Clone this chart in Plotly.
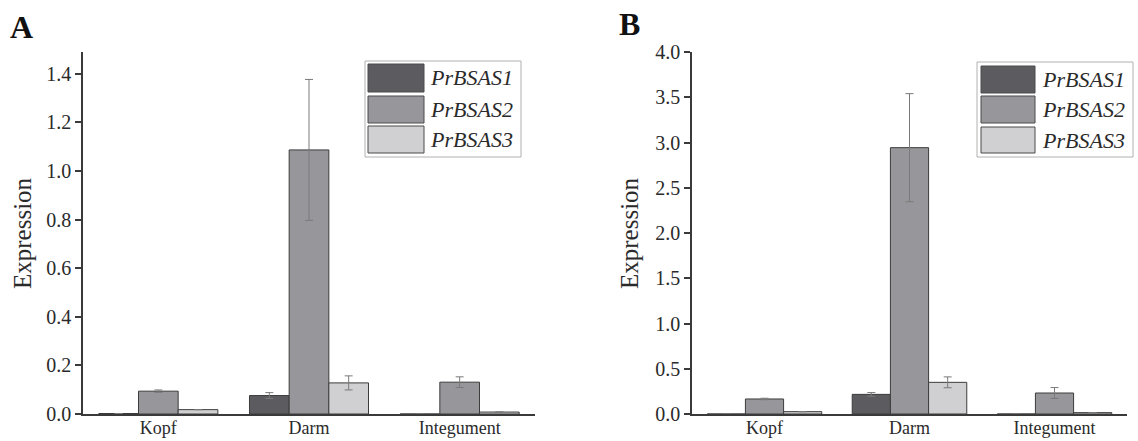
import plotly.graph_objects as go

W, H = 1138, 441

categories = ["Kopf", "Darm", "Integument"]
series_names = ["PrBSAS1", "PrBSAS2", "PrBSAS3"]

a_sas1 = [0.002, 0.076, 0.0]
a_sas2 = [0.094, 1.087, 0.131]
a_sas3 = [0.018, 0.128, 0.008]
a_err1 = [0.0, 0.012, 0.0]
a_err2 = [0.005, 0.29, 0.022]
a_err3 = [0.0, 0.029, 0.0]

b_sas1 = [0.0, 0.217, 0.0]
b_sas2 = [0.166, 2.943, 0.232]
b_sas3 = [0.026, 0.35, 0.015]
b_err1 = [0.0, 0.02, 0.0]
b_err2 = [0.008, 0.597, 0.06]
b_err3 = [0.0, 0.06, 0.0]

a_ticks = [0.0, 0.2, 0.4, 0.6, 0.8, 1.0, 1.2, 1.4]
b_ticks = [0.0, 0.5, 1.0, 1.5, 2.0, 2.5, 3.0, 3.5, 4.0]

colors = ["#5c5c60", "#97979b", "#d0d0d2"]
FONT = "Liberation Serif"
TXT = "#2a2a2a"

fig = go.Figure()

def add_panel(vals, errs, xa, ya):
    for name, v, e, c in zip(series_names, vals, errs, colors):
        fig.add_trace(go.Bar(
            x=categories, y=v, name=name, xaxis=xa, yaxis=ya,
            marker=dict(color=c, line=dict(color="#3c3c3c", width=1)),
            error_y=dict(type="data", array=e, visible=True, color="#7a7a7a",
                         thickness=1, width=4),
            showlegend=False,
        ))

add_panel([a_sas1, a_sas2, a_sas3], [a_err1, a_err2, a_err3], "x", "y")
add_panel([b_sas1, b_sas2, b_sas3], [b_err1, b_err2, b_err3], "x2", "y2")

def px(x):
    return x / W

def py(y):
    return 1 - y / H

ydom = [py(414), py(52)]

axis_common = dict(showline=True, linecolor="#3a3a3a", linewidth=1.5,
                   showgrid=False, zeroline=False, automargin=False,
                   tickfont=dict(family=FONT, size=20, color=TXT))
xfont = dict(family=FONT, size=18, color=TXT)

fig.update_layout(
    width=W, height=H,
    margin=dict(l=0, r=0, t=0, b=0),
    paper_bgcolor="white", plot_bgcolor="white",
    barmode="group", bargap=0.21, bargroupgap=0,
    xaxis=dict(domain=[px(83), px(535)], anchor="y", ticks="", ticklabelstandoff=-3,
               **{**axis_common, "tickfont": xfont}),
    yaxis=dict(domain=ydom, anchor="x", range=[0, 1.49], tickvals=a_ticks,
               tickformat=".1f", ticks="outside", ticklen=6, tickcolor="#3a3a3a",
               tickwidth=1.5, **axis_common),
    xaxis2=dict(domain=[px(692), px(1127)], anchor="y2", ticks="", ticklabelstandoff=-3,
                **{**axis_common, "tickfont": xfont}),
    yaxis2=dict(domain=ydom, anchor="x2", range=[0, 4.0], tickvals=b_ticks,
                tickformat=".1f", ticks="outside", ticklen=6, tickcolor="#3a3a3a",
                tickwidth=1.5, **axis_common),
)

annotations = []
shapes = []

annotations.append(dict(text="<b>A</b>", x=px(8), y=py(27), xref="paper", yref="paper",
                        xanchor="left", yanchor="middle", showarrow=False,
                        font=dict(family=FONT, size=32, color="#111")))
annotations.append(dict(text="<b>B</b>", x=px(617), y=py(24), xref="paper", yref="paper",
                        xanchor="left", yanchor="middle", showarrow=False,
                        font=dict(family=FONT, size=32, color="#111")))

for xc in (22, 629):
    annotations.append(dict(text="Expression", x=px(xc), y=py(233), xref="paper", yref="paper",
                            xanchor="center", yanchor="middle", textangle=-90, showarrow=False,
                            font=dict(family=FONT, size=25, color=TXT)))

def add_legend(box, sw_x, rows, text_x):
    x0, y0, x1, y1 = box
    shapes.append(dict(type="rect", xref="paper", yref="paper",
                       x0=px(x0), x1=px(x1), y0=py(y1), y1=py(y0),
                       line=dict(color="#b0b0b0", width=1), fillcolor="white", layer="above"))
    for (r0, r1), name, c in zip(rows, series_names, colors):
        shapes.append(dict(type="rect", xref="paper", yref="paper",
                           x0=px(sw_x[0]), x1=px(sw_x[1]), y0=py(r1), y1=py(r0),
                           line=dict(color="#4a4a4a", width=1), fillcolor=c, layer="above"))
        annotations.append(dict(text="<i>%s</i>" % name, x=px(text_x), y=py((r0 + r1) / 2),
                                xref="paper", yref="paper", xanchor="left", yanchor="middle",
                                showarrow=False, font=dict(family=FONT, size=22, color=TXT)))

add_legend((365, 61, 521, 157), (368, 424), [(64, 92), (96, 123), (126, 153)], 428)
add_legend((977, 62, 1133, 157), (981, 1035), [(66, 93), (96, 123), (127, 153)], 1040)

fig.update_layout(annotations=annotations, shapes=shapes)

fig.write_html("out.html", config={"displayModeBar": False},
               post_script="document.body.style.margin='0';document.body.style.overflow='hidden';")
